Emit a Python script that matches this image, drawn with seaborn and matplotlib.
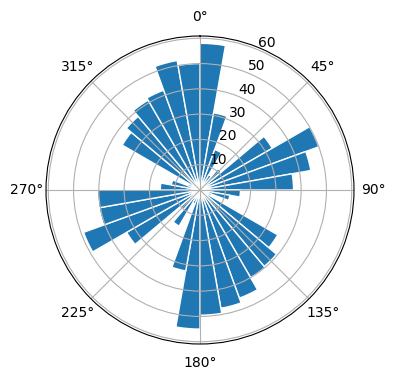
import numpy as np
import seaborn as sns
import matplotlib
matplotlib.use("Agg")
import matplotlib.pyplot as plt

# wind-rose style counts, 36 bins of 10 degrees, clockwise from north
bin_start_deg = list(range(0, 360, 10))
counts = [58, 31, 17, 7, 11, 33, 50, 44.5, 37,
          16, 12, 5, 35.5, 39.5, 40, 45.5, 47.5, 49.5,
          55, 32.5, 6, 16.5, 10, 33.5, 49, 40.5, 40.5,
          15.7, 11.5, 5, 35.5, 38, 41, 42, 52, 50]

blue = sns.color_palette("tab10")[0]

fig = plt.figure(figsize=(3.96, 3.8), dpi=100)
ax = fig.add_axes([46 / 396, 36 / 380, 308 / 396, 308 / 380], projection="polar")
ax.set_theta_zero_location("N")
ax.set_theta_direction(-1)

theta = np.deg2rad(bin_start_deg)
ax.bar(theta, counts, width=np.deg2rad(10), align="edge",
       color=blue, edgecolor="white", linewidth=1)

fig.savefig("out.png", dpi=100)
